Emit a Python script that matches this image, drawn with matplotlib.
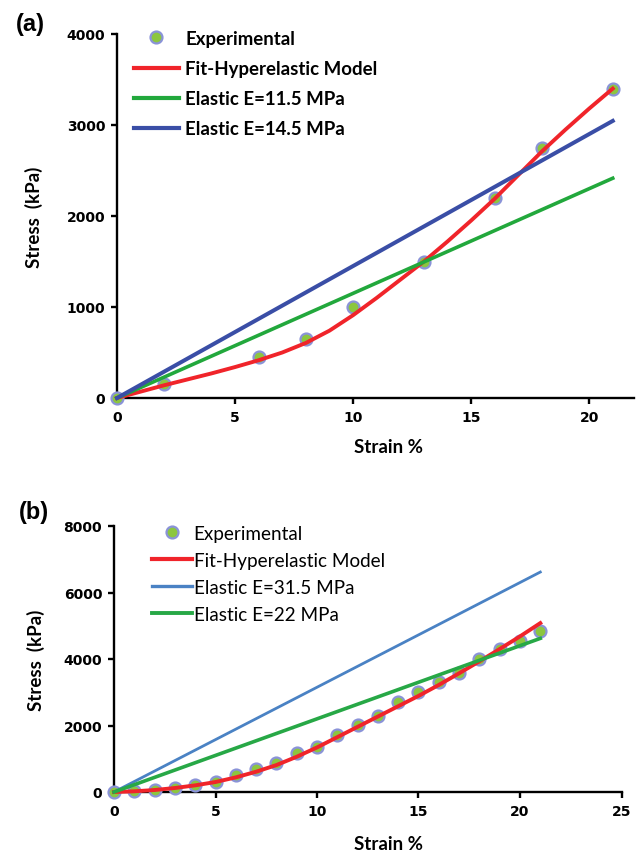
import matplotlib
matplotlib.use("Agg")
import matplotlib.pyplot as plt
from matplotlib.lines import Line2D

# panel (a) data
EXP_A_STRAIN = [0, 2, 6, 8, 10, 13, 16, 18, 21]
EXP_A_STRESS = [0, 150, 450, 650, 1000, 1500, 2200, 2750, 3400]
FIT_A_STRAIN = list(range(0, 22))
FIT_A_STRESS = [0, 70, 140, 205, 270, 340, 415, 500, 605, 740, 910,
                1100, 1300, 1500, 1720, 1950, 2190, 2450, 2710, 2950, 3180, 3400]
ELASTIC_A_STRAIN = [0, 21]
ELASTIC_A_115 = [0, 2415]
ELASTIC_A_145 = [0, 3045]

# panel (b) data
EXP_B_STRAIN = list(range(0, 22))
EXP_B_STRESS = [0, 20, 70, 120, 200, 300, 500, 700, 870, 1170, 1350,
                1720, 2020, 2300, 2720, 3000, 3300, 3570, 4000, 4300, 4530, 4850]
FIT_B_STRAIN = list(range(0, 22))
FIT_B_STRESS = [0, 20, 60, 120, 200, 300, 440, 610, 810, 1060, 1340,
                1650, 1960, 2270, 2580, 2890, 3220, 3570, 3930, 4300, 4680, 5080]
ELASTIC_B_STRAIN = [0, 21]
ELASTIC_B_315 = [0, 6615]
ELASTIC_B_22 = [0, 4620]

W, H = 637, 854
RED = "#f0242a"
GREEN_A = "#22a83c"
BLUE_A = "#3a4ea6"
BLUE_B = "#4a82c4"
GREEN_B = "#27a846"
MK_FACE = "#8cc63f"
MK_EDGE = "#8a93d8"

TICK_FONT = {"family": "DejaVu Sans", "weight": "bold", "size": 10}
LABEL_FONT = ["Lato", "DejaVu Sans"]

fig = plt.figure(figsize=(W / 100, H / 100), dpi=100)


def px_axes(left, top, right, bottom):
    return fig.add_axes([left / W, 1 - bottom / H, (right - left) / W, (bottom - top) / H])


def style_axes(ax, xticks, yticks):
    for side in ("top", "right"):
        ax.spines[side].set_visible(False)
    for side in ("left", "bottom"):
        ax.spines[side].set_linewidth(1.7)
        ax.spines[side].set_color("black")
    ax.set_xticks(xticks)
    ax.set_yticks(yticks)
    ax.tick_params(direction="out", length=4, width=1.7, pad=4.5)
    for lab in ax.get_xticklabels() + ax.get_yticklabels():
        lab.set_fontfamily(TICK_FONT["family"])
        lab.set_fontweight(TICK_FONT["weight"])
        lab.set_fontsize(TICK_FONT["size"])


marker_kw = dict(linestyle="none", marker="o", markersize=8.6, markerfacecolor=MK_FACE,
                 markeredgecolor=MK_EDGE, markeredgewidth=1.6, clip_on=False, zorder=3)
legend_marker = {k: v for k, v in marker_kw.items() if k not in ("clip_on", "zorder")}

# ---- panel (a)
ax_a = px_axes(117, 35, 634, 399)
ax_a.plot(EXP_A_STRAIN, EXP_A_STRESS, **marker_kw)
ax_a.plot(FIT_A_STRAIN, FIT_A_STRESS, color=RED, lw=2.8, zorder=4, clip_on=False)
ax_a.plot(ELASTIC_A_STRAIN, ELASTIC_A_115, color=GREEN_A, lw=2.6, zorder=5, clip_on=False)
ax_a.plot(ELASTIC_A_STRAIN, ELASTIC_A_145, color=BLUE_A, lw=2.9, zorder=6, clip_on=False)
ax_a.set_xlim(0, 21.9)
ax_a.set_ylim(0, 4000)
style_axes(ax_a, [0, 5, 10, 15, 20], [0, 1000, 2000, 3000, 4000])

handles_a = [
    Line2D([], [], **legend_marker),
    Line2D([], [], color=RED, lw=3.0),
    Line2D([], [], color=GREEN_A, lw=3.0),
    Line2D([], [], color=BLUE_A, lw=3.0),
]
labels_a = ["Experimental", "Fit-Hyperelastic Model", "Elastic E=11.5 MPa", "Elastic E=14.5 MPa"]
ax_a.legend(handles_a, labels_a, loc="upper left", bbox_to_anchor=(134 / W, 1 - 31 / H),
            bbox_transform=fig.transFigure, frameon=False, borderpad=0, borderaxespad=0,
            handlelength=2.4, handletextpad=0.35, labelspacing=0.7,
            prop={"family": LABEL_FONT, "weight": "bold", "size": 13.4})

# ---- panel (b)
ax_b = px_axes(114, 527, 621.5, 793)
ax_b.plot(EXP_B_STRAIN, EXP_B_STRESS, **marker_kw)
ax_b.plot(FIT_B_STRAIN, FIT_B_STRESS, color=RED, lw=2.8, zorder=4, clip_on=False)
ax_b.plot(ELASTIC_B_STRAIN, ELASTIC_B_315, color=BLUE_B, lw=2.0, zorder=5, clip_on=False)
ax_b.plot(ELASTIC_B_STRAIN, ELASTIC_B_22, color=GREEN_B, lw=2.6, zorder=5, clip_on=False)
ax_b.set_xlim(0, 25)
ax_b.set_ylim(0, 8000)
style_axes(ax_b, [0, 5, 10, 15, 20, 25], [0, 2000, 4000, 6000, 8000])

handles_b = [
    Line2D([], [], **legend_marker),
    Line2D([], [], color=RED, lw=3.0),
    Line2D([], [], color=BLUE_B, lw=2.4),
    Line2D([], [], color=GREEN_B, lw=2.8),
]
labels_b = ["Experimental", "Fit-Hyperelastic Model", "Elastic E=31.5 MPa", "Elastic E=22 MPa"]
ax_b.legend(handles_b, labels_b, loc="upper left", bbox_to_anchor=(152 / W, 1 - 526 / H),
            bbox_transform=fig.transFigure, frameon=False, borderpad=0, borderaxespad=0,
            handlelength=2.1, handletextpad=0.1, labelspacing=0.53,
            prop={"family": LABEL_FONT, "size": 13.6})

# axis titles and panel letters
lab_kw = dict(family=LABEL_FONT, weight="bold", size=13.5, ha="center", va="center")
fig.text(34 / W, 1 - 217 / H, "Stress  (kPa)", rotation=90, **lab_kw)
fig.text(36 / W, 1 - 660 / H, "Stress  (kPa)", rotation=90, **lab_kw)
fig.text(388 / W, 1 - 448 / H, "Strain %", **lab_kw)
fig.text(388 / W, 1 - 845 / H, "Strain %", **lab_kw)

letter_kw = dict(family=["Liberation Sans", "DejaVu Sans"], weight="bold", size=17,
                 ha="center", va="center")
fig.text(30 / W, 1 - 25 / H, "(a)", **letter_kw)
fig.text(34 / W, 1 - 512 / H, "(b)", **letter_kw)

fig.savefig("out.png", dpi=100, facecolor="white")
